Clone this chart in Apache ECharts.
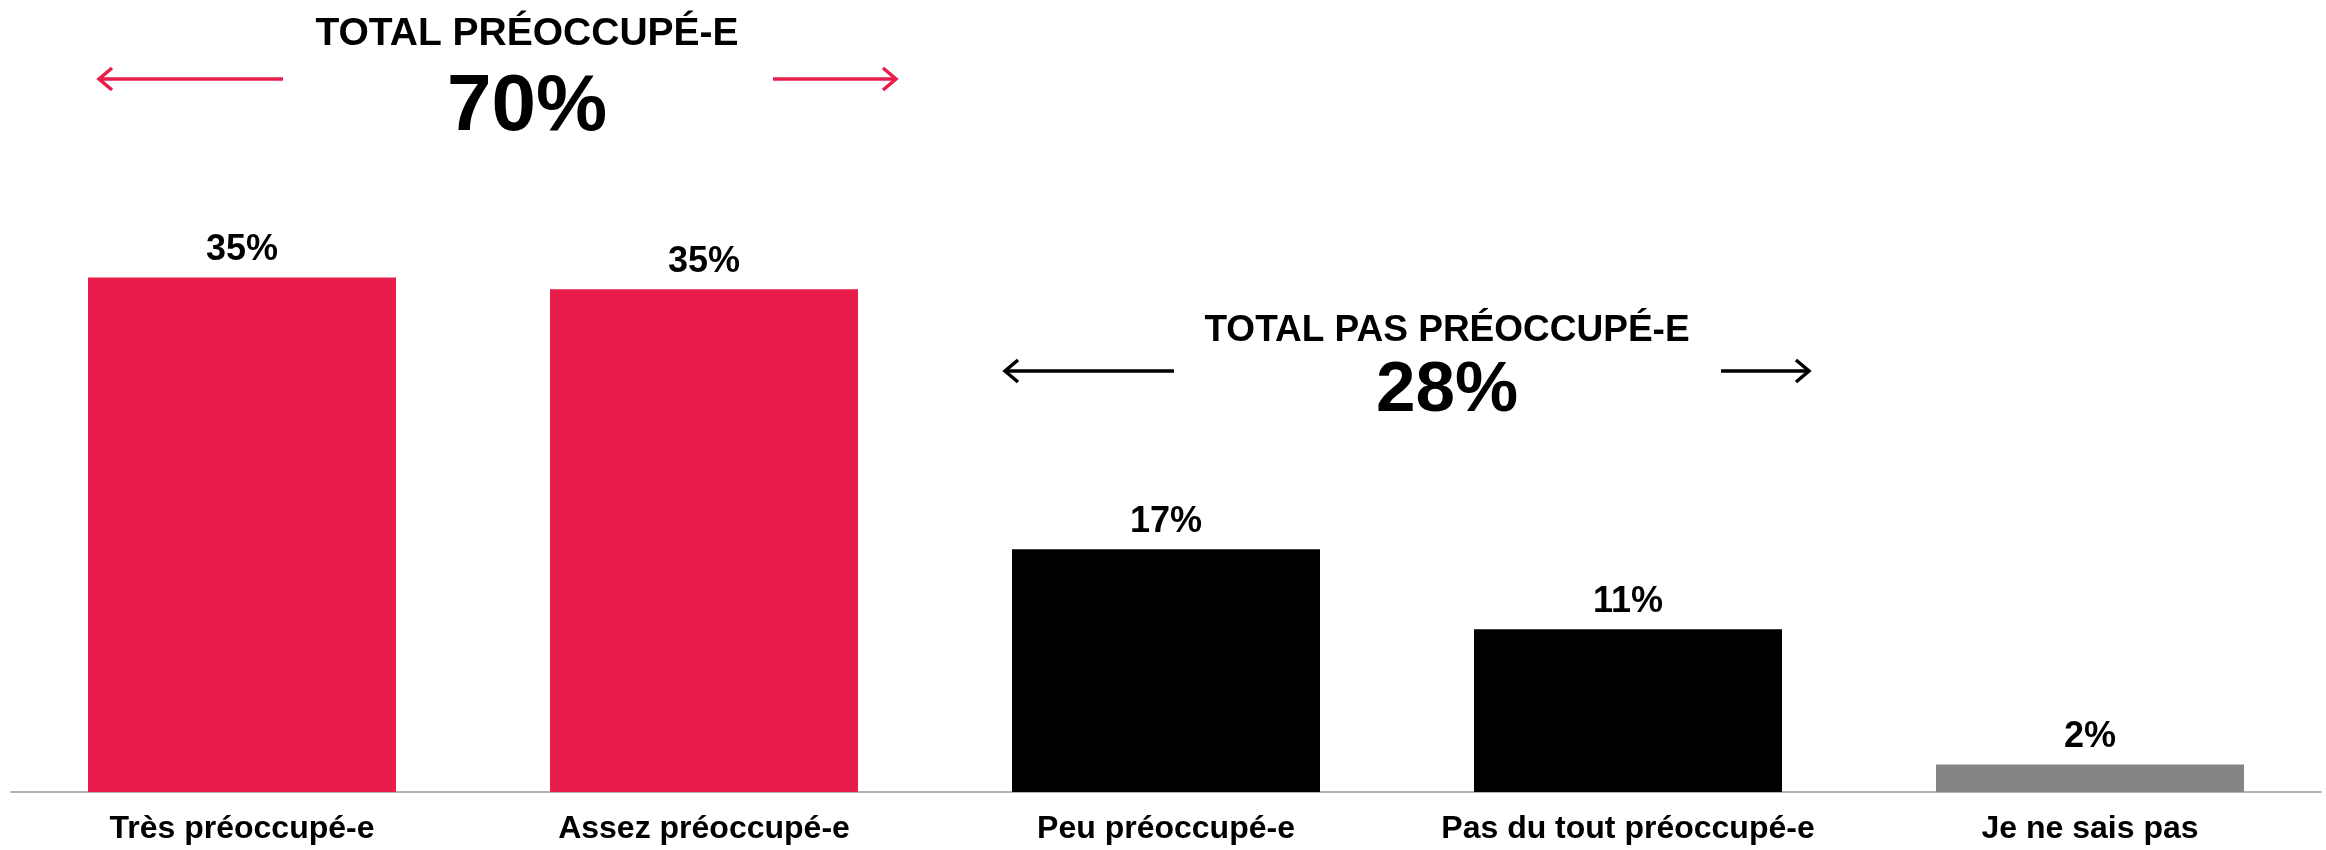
<!DOCTYPE html>
<html>
<head>
<meta charset="utf-8">
<script src="https://cdn.jsdelivr.net/npm/echarts@6/dist/echarts.min.js"></script>
<style>
    html, body { margin: 0; padding: 0; background: #fff; }
    #chart { width: 2326px; height: 850px; }
</style>
</head>
<body>
<div id="chart"></div>
<script>
// données
let categories = ['Très préoccupé-e', 'Assez préoccupé-e', 'Peu préoccupé-e', 'Pas du tout préoccupé-e', 'Je ne sais pas'];
let values = [35.4, 34.6, 16.7, 11.2, 1.9];
let valueLabels = ['35%', '35%', '17%', '11%', '2%'];
let totalTitles = ['TOTAL PRÉOCCUPÉ-E', 'TOTAL PAS PRÉOCCUPÉ-E'];
let totalValues = ['70%', '28%'];

let barColors = ['#e81d4b', '#e81d4b', '#000000', '#000000', '#858585'];
let red = '#e81d4b';
let font = '"Liberation Sans", Arial, sans-serif';

let myChart = echarts.init(document.getElementById('chart'));

function arrow(x1, x2, y, color) {
    // flèche horizontale, pointe en x2
    let d = x2 > x1 ? -13 : 13;
    return {
        type: 'group',
        children: [
            {
                type: 'line',
                shape: { x1: x1, y1: y, x2: x2, y2: y },
                style: { stroke: color, lineWidth: 3.5 }
            },
            {
                type: 'polyline',
                shape: { points: [[x2 + d, y - 11], [x2, y], [x2 + d, y + 11]] },
                style: { stroke: color, lineWidth: 3.5, fill: null }
            }
        ]
    };
}

function bigText(text, x, y, size) {
    return {
        type: 'text',
        x: x,
        y: y,
        style: {
            text: text,
            fill: '#000',
            font: 'bold ' + size + 'px ' + font,
            align: 'center',
            verticalAlign: 'middle'
        }
    };
}

let option = {
    animation: false,
    backgroundColor: '#fff',
    grid: {
        left: 11,
        right: 5,
        top: 0,
        bottom: 58,
        containLabel: false
    },
    xAxis: {
        type: 'category',
        data: categories,
        axisLine: { lineStyle: { color: '#b3b3b3', width: 2 } },
        axisTick: { show: false },
        axisLabel: {
            interval: 0,
            margin: 21,
            color: '#000',
            fontSize: 32,
            fontWeight: 'bold',
            fontFamily: font
        }
    },
    yAxis: {
        type: 'value',
        min: 0,
        max: 54.5,
        show: false,
        splitLine: { show: false }
    },
    series: [{
        type: 'bar',
        barWidth: 308,
        data: values.map(function (v, i) {
            return { value: v, itemStyle: { color: barColors[i] } };
        }),
        label: {
            show: true,
            position: 'top',
            distance: 9,
            color: '#000',
            fontSize: 36,
            fontWeight: 'bold',
            fontFamily: font,
            formatter: function (p) {
                return valueLabels[p.dataIndex];
            }
        }
    }],
    graphic: [
        bigText(totalTitles[0], 527, 34, 39),
        bigText(totalValues[0], 527, 108, 80),
        arrow(283, 99, 79, red),
        arrow(773, 896, 79, red),
        bigText(totalTitles[1], 1447, 331, 37),
        bigText(totalValues[1], 1447, 391, 71),
        arrow(1174, 1005, 371, '#000'),
        arrow(1721, 1809, 371, '#000')
    ]
};

myChart.setOption(option);
</script>
</body>
</html>
